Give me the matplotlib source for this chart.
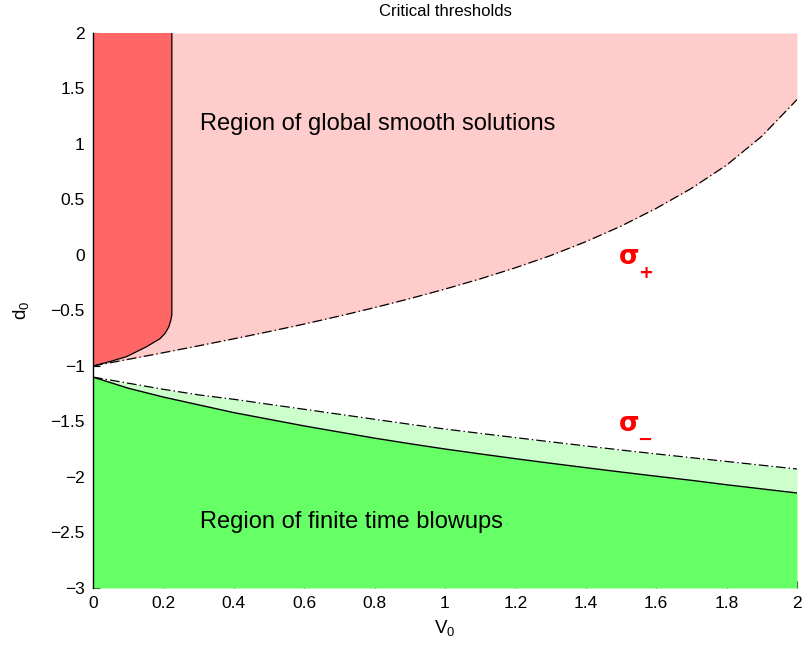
import matplotlib
matplotlib.use("Agg")
import matplotlib.pyplot as plt

plt.rcParams['font.family'] = ['Liberation Sans', 'DejaVu Sans']
plt.rcParams['mathtext.fontset'] = 'custom'
plt.rcParams['mathtext.rm'] = 'Liberation Sans'
plt.rcParams['mathtext.it'] = 'Liberation Sans:italic'
plt.rcParams['mathtext.bf'] = 'Liberation Sans:bold'
plt.rcParams['lines.scale_dashes'] = False

# ---- data ----
v0 = [0.0, 0.1, 0.2, 0.3, 0.4, 0.5, 0.6, 0.7, 0.8, 0.9, 1.0,
      1.1, 1.2, 1.3, 1.4, 1.5, 1.6, 1.7, 1.8, 1.9, 2.0]
sigma_plus = [-1.00, -0.94, -0.88, -0.818, -0.755, -0.69, -0.622, -0.55, -0.474, -0.393, -0.307,
              -0.215, -0.115, -0.005, 0.12, 0.26, 0.42, 0.60, 0.81, 1.07, 1.40]
sigma_minus = [-1.10, -1.155, -1.21, -1.26, -1.30, -1.345, -1.39, -1.435, -1.48, -1.525, -1.568,
               -1.607, -1.645, -1.683, -1.72, -1.757, -1.792, -1.826, -1.86, -1.894, -1.928]
blowup_bound = [-1.10, -1.20, -1.28, -1.35, -1.42, -1.48, -1.54, -1.595, -1.65, -1.70, -1.748,
                -1.792, -1.835, -1.876, -1.916, -1.955, -1.993, -2.03, -2.07, -2.107, -2.144]

# boundary of the dark red region (curve then vertical)
red_x = [0.0, 0.05, 0.095, 0.15, 0.19, 0.205, 0.215, 0.221, 0.224, 0.224]
red_y = [-1.0, -0.958, -0.916, -0.83, -0.755, -0.705, -0.65, -0.59, -0.54, 2.0]

xticks = [0, 0.2, 0.4, 0.6, 0.8, 1, 1.2, 1.4, 1.6, 1.8, 2]
xticklabels = ['0', '0.2', '0.4', '0.6', '0.8', '1', '1.2', '1.4', '1.6', '1.8', '2']
yticks = [2, 1.5, 1, 0.5, 0, -0.5, -1, -1.5, -2, -2.5, -3]
yticklabels = ['2', '1.5', '1', '0.5', '0', '\u22120.5', '\u22121', '\u22121.5', '\u22122', '\u22122.5', '\u22123']

XMIN, XMAX, YMIN, YMAX = 0, 2, -3, 2

fig = plt.figure(figsize=(8.04, 6.46), dpi=100)
ax = fig.add_axes([93/804, 1-588/646, (797-93)/804, (588-33)/646])

c_pink = '#FFCCCC'
c_red = '#FF6666'
c_green = '#66FF66'
c_lgreen = '#CCFFCC'

# fills
ax.fill_between(v0, sigma_plus, YMAX, color=c_pink, lw=0, zorder=1)
ax.fill(red_x + [0.0], red_y + [2.0], color=c_red, lw=0, zorder=1.1)
ax.fill_between(v0, blowup_bound, sigma_minus, color=c_lgreen, lw=0, zorder=1)
ax.fill_between(v0, YMIN, blowup_bound, color=c_green, lw=0, zorder=1)

# lines
dashdot = (0, (7, 2.2, 1.0, 2.2))
ax.plot(v0, sigma_plus, color='black', lw=0.9, ls=dashdot, zorder=3)
ax.plot(v0, sigma_minus, color='black', lw=0.9, ls=dashdot, zorder=3)
ax.plot(v0, blowup_bound, color='black', lw=1.0, zorder=3)
ax.plot(red_x, red_y, color='black', lw=0.9, zorder=3)

ax.set_xlim(XMIN, XMAX)
ax.set_ylim(YMIN, YMAX)
ax.set_xticks(xticks)
ax.set_xticklabels(xticklabels)
ax.set_yticks(yticks)
ax.set_yticklabels(yticklabels)
ax.set_axisbelow(True)
ax.tick_params(direction='in', length=5, width=0.8, labelsize=12.5, pad=6)
for s in ['top', 'right', 'bottom']:
    ax.spines[s].set_visible(False)
ax.spines['left'].set_linewidth(1.0)
ax.spines['left'].set_zorder(4)

ax.set_title('Critical thresholds', fontsize=12, pad=12)
ax.set_xlabel(r'V$_0$', fontsize=13.5, labelpad=5)
ax.set_ylabel(r'd$_0$', fontsize=13.5, labelpad=14)

ax.text(0.304, 1.18, 'Region of global smooth solutions', fontsize=17, va='center', ha='left')
ax.text(0.304, -2.405, 'Region of finite time blowups', fontsize=17, va='center', ha='left')

sig_fam = ['DejaVu Sans']
ax.text(1.495, -0.015, '\u03c3', color='red', fontsize=19, fontweight='bold',
        va='center', ha='left', family=sig_fam)
ax.text(1.548, -0.162, '+', color='red', fontsize=13, fontweight='bold',
        va='center', ha='left', family=sig_fam)
ax.text(1.495, -1.52, '\u03c3', color='red', fontsize=19, fontweight='bold',
        va='center', ha='left', family=sig_fam)
ax.text(1.546, -1.665, '\u2212', color='red', fontsize=13, fontweight='bold',
        va='center', ha='left', family=sig_fam)

fig.savefig('out.png', dpi=100)
